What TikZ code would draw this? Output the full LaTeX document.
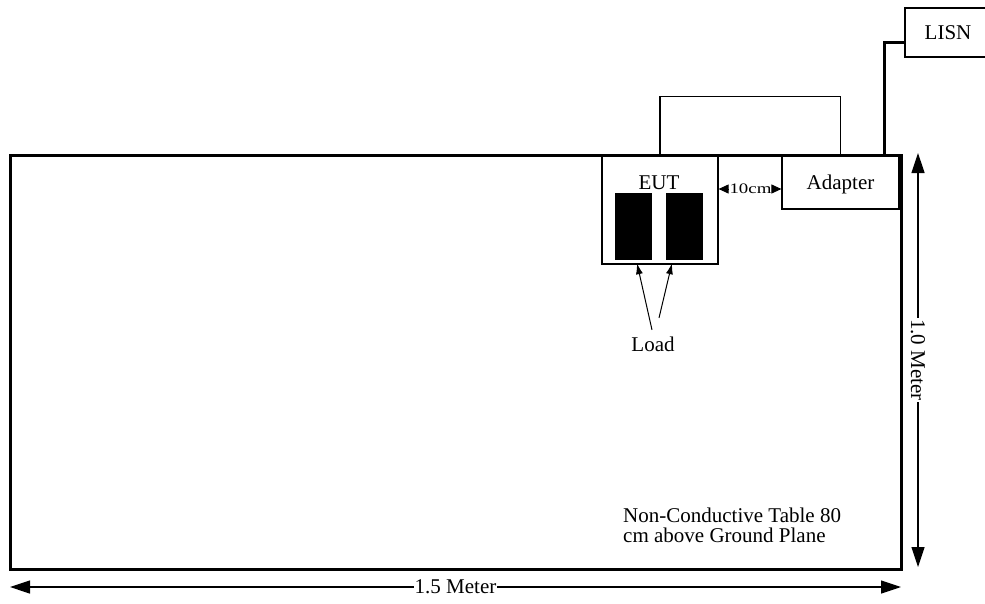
\documentclass[tikz,border=0pt]{standalone}
\usepackage{fontspec}
\setmainfont{Liberation Serif}
\usetikzlibrary{arrows.meta}

\begin{document}
\begin{tikzpicture}[x=1pt, y=-1pt,
  every node/.style={font=\fontsize{21}{20}\selectfont},
  thinbox/.style={draw, line width=1.2pt, inner sep=0pt, text depth=0pt},
  thinline/.style={line width=1.2pt},
  loadblock/.style={fill=black, minimum width=37pt, minimum height=67pt, inner sep=0pt},
  tableline/.style={line width=3pt},
  cable/.style={line width=3pt, line join=miter},
  dimarrow/.style={{Triangle[length=20pt,width=13pt]}-{Triangle[length=20pt,width=13pt]}, line width=1.2pt},
  gaparrow/.style={-{Triangle[length=10pt,width=9pt]}, line width=1pt},
  loadarrow/.style={-{Latex[length=11pt,width=7pt]}, line width=1pt}]

\useasboundingbox (0,0) rectangle (985,603);
\clip (0,0) rectangle (985,603);

% EUT with its two loads
\node[thinbox, minimum width=116pt, minimum height=109pt] (eut) at (660,209.5) {};
\node[inner sep=0pt] (eutlabel) at (659,182.5) {EUT};
\node[loadblock] (load1) at (633.5,226.5) {};
\node[loadblock] (load2) at (684.5,226.5) {};

% Adapter and LISN
\node[thinbox, minimum width=117pt, minimum height=54pt] (adapter) at (840.5,182) {Adapter};
\node[thinbox, minimum width=86pt, minimum height=49pt] (lisn) at (948,32.5) {LISN};

% Cable loop between EUT and adapter
\draw[thinline] (eut.north) -- ++(0,-58) -| (adapter.north);

% Power cord to LISN
\coordinate (plug) at (884,155);
\draw[cable] (plug) |- ([yshift=-9.5pt]lisn.west);

% Table
\coordinate (tl) at (10,155);
\coordinate (br) at (901,569);
\draw[tableline] (tl) rectangle (br);

% 10cm spacing
\node[inner sep=0.5pt, font=\fontsize{14.5}{16}\selectfont] (gap) at (750.5,189) {\scalebox{1.3}[1]{10cm}};
\draw[gaparrow] (gap.west) -- (eut.east |- gap.west);
\draw[gaparrow] (gap.east) -- (adapter.west |- gap.east);

% Load label
\node[inner sep=0pt] (load) at (653,344.5) {Load};
\draw[loadarrow] ([xshift=-1pt,yshift=7pt]load.north) -- ([xshift=3.5pt,yshift=-3pt]load1.south);
\draw[loadarrow] ([xshift=6pt,yshift=19pt]load.north) -- ([xshift=-12.5pt,yshift=-3pt]load2.south);

% Table note
\node[inner sep=0pt, anchor=north west, align=left] (note) at (623,508)
  {Non-Conductive Table 80\\cm above Ground Plane};

% Dimensions
\coordinate (wl) at (10,587);
\coordinate (wr) at (901,587);
\draw[dimarrow] (wl) -- (wr) node[midway, fill=white, inner sep=1pt] (wlabel) {1.5 Meter};
\coordinate (ht) at (918,153);
\coordinate (hb) at (918,567);
\draw[dimarrow] (ht) -- (hb) node[midway, fill=white, inner sep=1pt, rotate=-90] (hlabel) {1.0 Meter};

\end{tikzpicture}
\end{document}
